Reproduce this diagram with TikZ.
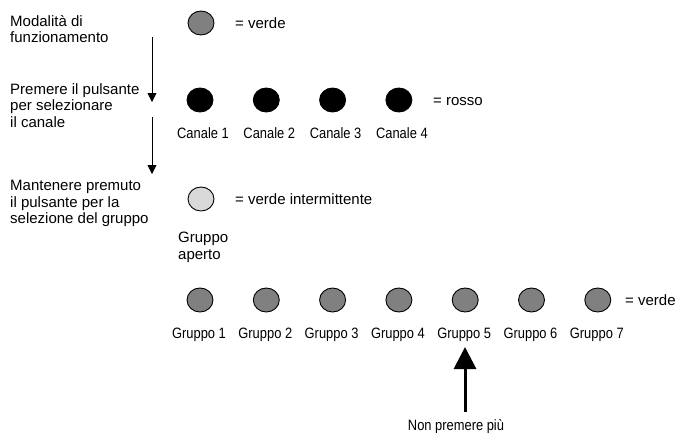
\documentclass[tikz,border=0pt]{standalone}
\usepackage{fontspec}
\setmainfont{Liberation Sans}
\newfontfamily\condsans[FakeStretch=0.86]{Liberation Sans}
\usetikzlibrary{shapes.geometric,arrows.meta}
\definecolor{lampgray}{HTML}{808080}
\definecolor{lamplight}{HTML}{D9D9D9}
\begin{document}
\begin{tikzpicture}[x=1pt,y=-1pt,
  lamp/.style={ellipse,draw=black,line width=0.9pt,minimum width=26pt,minimum height=24pt,inner sep=0pt},
  lampverde/.style={lamp,fill=lampgray},
  lamprosso/.style={lamp,fill=black},
  lampblink/.style={lamp,fill=lamplight},
  bigtxt/.style={font=\fontsize{15}{16.5}\selectfont,inner sep=0pt,align=left},
  smalltxt/.style={font=\condsans\fontsize{15}{16.5}\selectfont,inner sep=0pt},
  steparrow/.style={line width=0.8pt,-{Triangle[width=9pt,length=9pt]}},
  bigarrow/.style={line width=3pt,-{Triangle[width=22pt,length=22pt]}}]
\useasboundingbox (0,0) rectangle (678,432);

% left instructions
\node[bigtxt,anchor=north west] (t1) at (10,15) {Modalità di\\funzionamento};
\node[bigtxt,anchor=north west] (t2) at (10,83) {Premere il pulsante\\per selezionare\\il canale};
\node[bigtxt,anchor=north west] (t3) at (10,180) {Mantenere premuto\\il pulsante per la\\selezione del gruppo};

\coordinate (a1s) at (152,37);
\coordinate (a1e) at (152,102);
\coordinate (a2s) at (152,117);
\coordinate (a2e) at (152,174);
\draw[steparrow] (a1s) -- (a1e);
\draw[steparrow] (a2s) -- (a2e);

% row 1
\node[lampverde] (m) at (201,23) {};
\node[bigtxt,anchor=base west] (mv) at (235,28.5) {= verde};

% row 2: channels
\foreach \i in {1,...,4}{
  \node[lamprosso] (c\i) at ({200+66.3*(\i-1)},100) {};
  \node[smalltxt,anchor=base] (cl\i) at ({203+66.3*(\i-1)},138) {Canale \i};
}
\node[bigtxt,anchor=base west] (cr) at (433,105.5) {= rosso};

% row 3: group open
\node[lampblink] (g0) at (201,199) {};
\node[bigtxt,anchor=base west] (gv) at (235,204.5) {= verde intermittente};
\node[bigtxt,anchor=north west] (gl) at (178,232) {Gruppo\\aperto};

% row 4: groups
\foreach \i in {1,...,7}{
  \node[lampverde] (g\i) at ({200+66.3*(\i-1)},300) {};
  \node[smalltxt,anchor=base] (gl\i) at ({199+66.3*(\i-1)},338.5) {Gruppo \i};
}
\node[bigtxt,anchor=base west] (gr) at (625,305.5) {= verde};

% final arrow
\node[smalltxt,anchor=base] (np) at (456,430) {Non premere più};
\coordinate (ns) at (465,412);
\coordinate (ne) at (465,347);
\draw[bigarrow] (ns) -- (ne);
\end{tikzpicture}
\end{document}
